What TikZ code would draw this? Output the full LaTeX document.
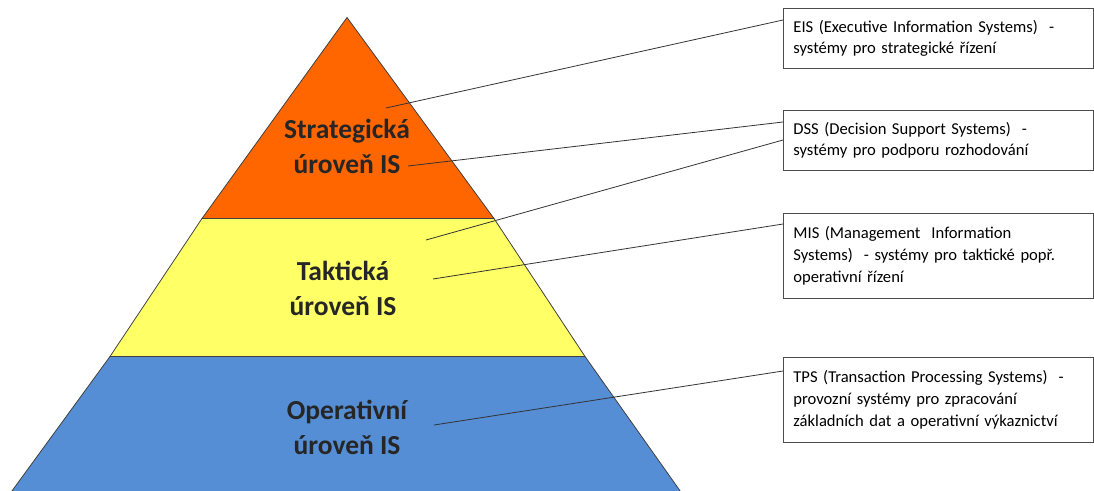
\documentclass[tikz,border=0pt]{standalone}
\usepackage{fontspec}
\setmainfont{Carlito}
\usetikzlibrary{positioning}

\definecolor{stratorange}{RGB}{255,102,0}
\definecolor{taktyellow}{RGB}{255,255,102}
\definecolor{operblue}{RGB}{85,142,213}

\begin{document}
\begin{tikzpicture}[x=1pt, y=-1pt,
  level/.style={draw=black!75, line width=0.8pt, line join=round},
  levellab/.style={font=\fontsize{27.5}{35}\selectfont\bfseries, align=center, text=black!85},
  sysbox/.style={draw=black!70, line width=0.8pt, fill=white, anchor=north west,
    text width=290pt, inner xsep=10pt, inner ysep=0pt, align=left,
    font=\fontsize{16.6}{21.7}\selectfont},
  callout/.style={draw=black!80, line width=0.8pt}]
\useasboundingbox (0,0) rectangle (1094,490);
\clip (0,0) rectangle (1094,490);

% pyramid
\draw[level, fill=operblue] (110,356.5) -- (585,356.5) -- (683,495) -- (9,495) -- cycle;
\draw[level, fill=taktyellow] (202,218.5) -- (494,218.5) -- (585,356.5) -- (110,356.5) -- cycle;
\draw[level, fill=stratorange] (347,17.5) -- (494,218.5) -- (202,218.5) -- cycle;

\node[levellab] (strat) at (347,146) {Strategická\\úroveň IS};
\node[levellab] (takt) at (343,288) {Taktická\\úroveň IS};
\node[levellab] (oper) at (347,427) {Operativní\\úroveň IS};

% systems
\node[sysbox, minimum height=60pt] (eis) at (783,8) {EIS (Executive Information Systems)\ \ -\\systémy pro strategické řízení};
\node[sysbox, minimum height=60pt] (dss) at (783,110) {DSS (Decision Support Systems)\ \ -\\systémy pro podporu rozhodování};
\node[sysbox, minimum height=85pt] (mis) at (783,213) {MIS (Management\ \ Information\\Systems)\ \ - systémy pro taktické popř.\\operativní řízení};
\node[sysbox, minimum height=85pt] (tps) at (783,357) {TPS (Transaction Processing Systems)\ \ -\\provozní systémy pro zpracování\\základních dat a operativní výkaznictví};

% callout lines
\coordinate (s1) at (386,108);
\coordinate (s2) at (408,166);
\coordinate (s3) at (426,240);
\coordinate (s4) at (433,279);
\coordinate (s5) at (434,425);

\draw[callout] (s1) -- ([yshift=-12pt]eis.north west);
\draw[callout] (s2) -- ([yshift=-12pt]dss.north west);
\draw[callout] (s3) -- ([yshift=-30pt]dss.north west);
\draw[callout] (s4) -- ([yshift=-11pt]mis.north west);
\draw[callout] (s5) -- ([yshift=-14pt]tps.north west);
\end{tikzpicture}
\end{document}
